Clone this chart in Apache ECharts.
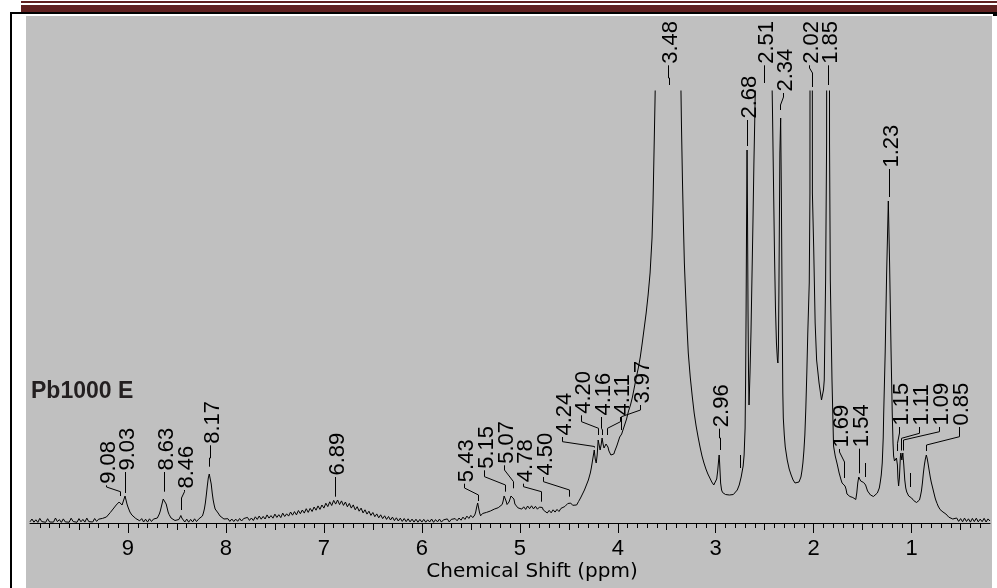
<!DOCTYPE html>
<html><head><meta charset="utf-8">
<script src="https://cdn.jsdelivr.net/npm/echarts@6/dist/echarts.min.js"></script>
<style>html,body{margin:0;padding:0;background:#fff}#chart{width:997px;height:588px}</style>
</head><body><div id="chart"></div>
<script>
// ---- spectrum: [chemical shift (ppm), intensity] ----
const aromaticRegion = [[10.00,1.2],[9.98,4.0],[9.96,0.8],[9.94,3.2],[9.92,0.6],[9.90,4.6],[9.88,1.4],[9.86,3.0],[9.84,0.7],[9.82,4.3],[9.80,1.0],[9.78,2.8],[9.76,0.9],[9.74,5.0],[9.72,1.3],[9.70,3.4],[9.68,0.6],[9.66,4.1],[9.64,1.1],[9.62,2.9],[9.60,0.8],[9.58,4.8],[9.56,1.5],[9.54,3.3],[9.52,0.7],[9.50,4.4],[9.48,1.2],[9.46,3.6],[9.44,0.9],[9.42,4.9],[9.40,1.4],[9.38,3.1],[9.36,1.0],[9.34,4.5],[9.32,1.6],[9.30,3.8],[9.28,2.0],[9.26,4.6],[9.24,4.5],[9.22,6],[9.20,8],[9.18,10.5],[9.16,13],[9.14,15],[9.12,18],[9.10,19],[9.09,21],[9.08,22],[9.07,19],[9.06,18],[9.05,21],[9.04,24],[9.03,27],[9.02,23],[9.01,19],[9.00,16],[8.99,14],[8.98,11],[8.97,10],[8.96,8],[8.94,6.5],[8.92,4.5],[8.90,3.5],[8.88,2.2],[8.86,4.4],[8.84,1.0],[8.82,3.8],[8.80,0.9],[8.78,4.2],[8.76,1.5],[8.74,3.9],[8.72,2.6],[8.70,5],[8.68,9],[8.67,12],[8.66,16],[8.65,20],[8.64,24],[8.63,25.5],[8.62,23],[8.61,19],[8.60,15],[8.59,11],[8.58,8.5],[8.57,6.5],[8.56,5],[8.54,3.5],[8.52,2.5],[8.50,3.0],[8.48,3.5],[8.47,5],[8.46,7.5],[8.45,5],[8.44,3.2],[8.42,1.0],[8.40,3.9],[8.38,0.8],[8.36,3.6],[8.34,1.1],[8.32,4.2],[8.30,1.4],[8.28,3.8],[8.26,4.5],[8.24,7],[8.23,10],[8.22,14],[8.21,20],[8.20,28],[8.19,37],[8.18,45],[8.17,49],[8.16,47],[8.15,39],[8.14,30],[8.13,23],[8.12,18],[8.11,14],[8.10,12],[8.08,10],[8.06,7],[8.04,5.5],[8.02,4],[8.00,2.4],[7.98,4.3],[7.96,1.6],[7.94,4.0],[7.92,1.5],[7.90,3.9],[7.88,1.7],[7.86,4.5],[7.84,2.0],[7.82,4.4],[7.80,2.6]];

const broadRegion = [[7.78,5.6],[7.76,2.6],[7.74,5.0],[7.72,2.5],[7.70,6.2],[7.68,3.6],[7.66,7.0],[7.64,3.8],[7.62,6.6],[7.60,4.0],[7.58,8.1],[7.56,4.9],[7.54,7.4],[7.52,4.8],[7.50,8.9],[7.48,5.6],[7.46,8.3],[7.44,5.4],[7.42,9.9],[7.40,6.5],[7.38,9.2],[7.36,6.9],[7.34,11.0],[7.32,7.8],[7.30,11.4],[7.28,8.1],[7.26,12.5],[7.24,9.3],[7.22,13.0],[7.20,9.9],[7.18,14.3],[7.16,10.6],[7.14,14.6],[7.12,11.5],[7.10,16.0],[7.08,12.8],[7.06,17.1],[7.04,13.6],[7.02,18.0],[7.00,14.9],[6.98,19.8],[6.96,16.4],[6.94,21.2],[6.92,17.5],[6.90,22.6],[6.88,18.9],[6.86,23.0],[6.84,18.4],[6.82,22.1],[6.80,17.6],[6.78,21.0],[6.76,16.2],[6.74,19.6],[6.72,14.9],[6.70,18.1],[6.68,13.2],[6.66,16.3],[6.64,11.8],[6.62,14.9],[6.60,10.1],[6.58,13.2],[6.56,8.9],[6.54,11.8],[6.52,7.6],[6.50,10.5],[6.48,6.3],[6.46,9.1],[6.44,5.2],[6.42,8.2],[6.40,4.4],[6.38,7.2],[6.36,3.6],[6.34,6.5],[6.32,3.0],[6.30,5.9],[6.28,2.4],[6.26,5.2],[6.24,2.0],[6.22,4.8],[6.20,1.6],[6.18,4.5],[6.16,1.3],[6.14,4.2],[6.12,1.1],[6.10,3.9],[6.08,0.9],[6.06,3.8],[6.04,0.8],[6.02,3.6],[6.00,0.9],[5.98,3.7],[5.96,0.8],[5.94,3.2],[5.92,1.0],[5.90,4.0],[5.88,0.7],[5.86,3.4],[5.84,1.1],[5.82,3.9],[5.80,0.9],[5.78,3.1],[5.76,1.2],[5.74,4.1],[5.72,1.0],[5.70,3.6],[5.68,1.8],[5.66,4.4],[5.64,2.2],[5.62,5.0],[5.60,2.8],[5.58,5.9],[5.56,3.6],[5.54,6.9],[5.52,4.6],[5.50,7.6],[5.48,5.4],[5.46,8],[5.45,11],[5.44,16],[5.43,20],[5.42,15],[5.41,10],[5.40,7.2],[5.38,9.5],[5.36,8.6],[5.34,10.6],[5.32,9.8],[5.30,12.0],[5.28,11.4],[5.26,13.9],[5.24,13.0],[5.22,15.3],[5.20,15.0],[5.18,18.5],[5.17,22],[5.16,27],[5.15,28],[5.14,22],[5.13,18.5],[5.12,19.5],[5.11,21],[5.10,24],[5.09,27],[5.08,29],[5.07,28],[5.06,24],[5.05,19],[5.04,17],[5.02,15.2],[5.00,16.6],[4.98,13.9],[4.96,16.2],[4.94,13.6],[4.92,17.0],[4.90,14.3],[4.88,17.2],[4.86,14.1],[4.84,16.7],[4.82,13.8],[4.80,15.9],[4.79,16.5],[4.78,17.5],[4.77,15.5],[4.76,13.0],[4.74,11.5],[4.72,10.0],[4.70,12.6],[4.68,10.2],[4.66,13.2],[4.64,10.9],[4.62,13.6],[4.60,11.5],[4.58,14.6],[4.56,13.9],[4.54,16.5],[4.52,18.2],[4.51,19.5],[4.50,20.0],[4.49,18.0],[4.48,19.9],[4.46,17.7],[4.44,18.2],[4.42,18.0]];

const solventRegion = [[4.40,21.5],[4.38,25],[4.36,29],[4.34,33],[4.32,38],[4.30,43],[4.28,50],[4.27,55],[4.26,61],[4.25,67],[4.24,73],[4.23,64],[4.22,60],[4.21,68],[4.20,83],[4.19,78],[4.18,73],[4.17,78],[4.16,85],[4.15,79],[4.14,75],[4.13,77],[4.12,79],[4.11,81],[4.10,76],[4.09,72],[4.08,70],[4.07,68],[4.06,66],[4.05,67],[4.04,69],[4.03,72],[4.02,74],[4.01,77],[4.00,80],[3.99,83],[3.98,86],[3.97,88],[3.96,89],[3.95,92],[3.94,95],[3.93,98],[3.91,104],[3.89,112],[3.87,118],[3.85,126],[3.83,136],[3.81,146],[3.79,155],[3.77,166],[3.75,180],[3.73,195],[3.71,210],[3.69,228],[3.67,250],[3.65,285],[3.64,320],[3.63,370],[3.62,420],[3.61,480],[3.60,560],[3.58,720],[3.55,1000],[3.52,1300],[3.49,1450],[3.47,1450],[3.44,1250],[3.41,950],[3.38,650],[3.36,470],[3.35,400],[3.34,345],[3.33,300],[3.32,260],[3.31,235],[3.30,212],[3.29,190],[3.28,170],[3.27,158],[3.26,146],[3.24,127],[3.22,110],[3.20,97],[3.18,86],[3.16,76],[3.14,67],[3.12,60],[3.10,54],[3.08,49],[3.06,45],[3.04,41],[3.02,38],[3.01,37],[3.00,39],[2.99,44],[2.98,52],[2.97,63],[2.965,68],[2.96,60],[2.95,40],[2.94,33],[2.93,30.5],[2.92,29],[2.90,28.5],[2.88,27],[2.86,28],[2.84,27],[2.82,28.5],[2.80,30],[2.78,33],[2.76,38],[2.74,46],[2.72,57],[2.71,68]];

const aliphaticRegion = [[2.70,95],[2.695,140],[2.69,210],[2.685,300],[2.68,373],[2.675,300],[2.67,210],[2.665,150],[2.66,118],[2.655,120],[2.65,150],[2.64,190],[2.63,245],[2.62,300],[2.61,360],[2.60,410],[2.59,470],[2.57,650],[2.54,1300],[2.51,3000],[2.48,1300],[2.45,650],[2.43,470],[2.42,410],[2.41,340],[2.40,270],[2.39,215],[2.38,180],[2.37,163],[2.365,160],[2.36,175],[2.355,230],[2.35,300],[2.345,370],[2.337,405],[2.33,330],[2.325,260],[2.32,190],[2.315,130],[2.31,105],[2.30,88],[2.29,76],[2.27,63],[2.25,54],[2.23,48],[2.21,43],[2.19,40],[2.17,39.5],[2.15,41],[2.13,46],[2.12,52],[2.11,60],[2.10,72],[2.09,88],[2.08,115],[2.07,150],[2.06,190],[2.045,240],[2.038,330],[2.025,2500],[2.013,330],[2.00,276],[1.985,200],[1.97,163],[1.945,140],[1.92,123],[1.90,133],[1.892,143],[1.878,243],[1.868,380],[1.851,2200],[1.838,380],[1.83,243],[1.813,143],[1.797,77],[1.78,67],[1.76,59],[1.74,50],[1.72,43],[1.71,40],[1.70,38],[1.69,41],[1.68,37],[1.67,34],[1.66,29],[1.65,28],[1.64,29],[1.63,26.5],[1.62,28],[1.61,27],[1.60,25.5],[1.59,26],[1.58,24],[1.57,23.5],[1.56,30],[1.55,40],[1.54,46],[1.53,44],[1.52,42],[1.51,41.5],[1.50,41],[1.49,40.5],[1.48,40],[1.47,38],[1.46,35],[1.45,32],[1.44,31],[1.42,28],[1.40,27],[1.39,26.5],[1.37,28],[1.35,30],[1.34,32],[1.33,35],[1.32,41],[1.31,48],[1.30,60],[1.29,85],[1.285,110],[1.27,170],[1.255,250],[1.238,322],[1.225,260],[1.21,172],[1.198,110],[1.19,80],[1.184,67],[1.175,62],[1.165,61],[1.155,65],[1.15,67],[1.145,58],[1.14,45],[1.133,37],[1.125,45],[1.115,66],[1.11,70],[1.10,63],[1.09,70],[1.08,58],[1.07,43],[1.06,35],[1.05,31],[1.04,29],[1.03,27],[1.02,28],[1.01,26],[1.00,25],[0.99,24],[0.98,22.5],[0.97,22],[0.96,21],[0.95,20.5],[0.94,20],[0.93,21],[0.92,23],[0.91,27],[0.90,32],[0.89,40],[0.88,50],[0.87,58],[0.86,64],[0.85,68],[0.84,64],[0.83,58],[0.82,52],[0.81,46],[0.80,41],[0.79,37],[0.78,33],[0.77,29],[0.76,25],[0.75,22],[0.74,19.5],[0.73,17],[0.72,15],[0.71,13.5],[0.70,12.5],[0.69,12],[0.68,11],[0.67,10.8],[0.66,9.5],[0.65,9],[0.64,7.5],[0.63,7],[0.62,5.8],[0.61,5.2],[0.60,4.6],[0.58,4.0],[0.56,3.2],[0.54,5.0],[0.52,1.6],[0.50,4.4],[0.48,1.2],[0.46,4.9],[0.44,1.5],[0.42,4.2],[0.40,0.9],[0.38,4.6],[0.36,1.4],[0.34,4.8],[0.32,1.1],[0.30,3.9],[0.28,1.3],[0.26,4.7],[0.24,1.0],[0.22,4.1],[0.20,2.0]];

// ---- peak picks (label values, ppm) ----
const peakShifts = [9.08, 9.03, 8.63, 8.46, 8.17, 6.89, 5.43, 5.15, 5.07, 4.78, 4.50, 4.24, 4.20, 4.16, 4.11, 3.97, 3.48, 2.96, 2.68, 2.51, 2.34, 2.02, 1.85, 1.69, 1.54, 1.23, 1.15, 1.11, 1.09, 0.85];

// ---- layout of the peak-label leaders, in axis units: [label ppm, text start, bend top, bend bottom, tip] ----
const labelLayout = [
  [9.222, 39.7, 36, 31.3, 27], [9.03, 53, 40, 40, 30], [8.637, 53, 40, 40, 31.3], [8.433, 35, 31.3, 25, 13],
  [8.164, 79.7, 65, 65, 56.3], [6.884, 48, 35, 35, 26.3], [5.574, 41.3, 35, 28, 22], [5.37, 54.7, 46.3, 38, 31.3],
  [5.166, 59.7, 53, 41.3, 34.7], [4.972, 41.3, 36.3, 31.3, 21.3], [4.768, 48, 41.3, 33, 26.3], [4.57, 88, 81.3, 76.5, 75.5],
  [4.376, 109.7, 101.3, 94.7, 88], [4.172, 108, 94.7, 93, 88], [3.974, 108, 101.3, 94.7, 88], [3.77, 120, 113, 106.3, 93],
  [3.484, 459.7, 445, 445, 438], [2.964, 96.3, 85, 85, 73], [2.681, 405, 390, 390, 377], [2.512, 459.7, 448, 448, 440],
  [2.318, 432, 426, 418, 413], [2.05, 459.7, 455, 450, 436], [1.85, 459.7, 448, 448, 438], [1.744, 76, 71, 61, 45],
  [1.542, 76.3, 60, 60, 49.7], [1.236, 356, 340, 340, 326], [1.133, 98, 90, 79.7, 72], [0.929, 98, 89.7, 84.7, 72.5],
  [0.725, 98, 91.3, 83, 72.5], [0.521, 98, 86.3, 78, 72]
];
// short unlabelled leader marks seen above the trace: [ppm, top, bottom]
const unlabelledMarks = [[2.748, 68, 55], [1.473, 60, 46], [1.014, 50, 36]];

const majorTicks = [1, 2, 3, 4, 5, 6, 7, 8, 9];
const tickLabels = ['1', '2', '3', '4', '5', '6', '7', '8', '9'];
const halfTicks = [0.5, 1.5, 2.5, 3.5, 4.5, 5.5, 6.5, 7.5, 8.5, 9.5];
const minorTicks = [];
for (let i = 3; i <= 99; i++) { if (i % 5 !== 0) minorTicks.push(i / 10); }

const sampleName = 'Pb1000 E';
const axisTitle = 'Chemical Shift (ppm)';

const spectrum = aromaticRegion.concat(broadRegion, solventRegion, aliphaticRegion);
const X_MIN = 0.2, X_MAX = 10.0, Y_MAX = 432;
const LABEL_FONT = '22px "Liberation Sans", Arial, sans-serif';

const labelData = peakShifts.map((p, i) => [p].concat(labelLayout[i]));
const snap = v => Math.round(v) + 0.5;

function renderLabel(params, api) {
  const peak = api.value(0), lab = api.value(1), tI = api.value(2), bT = api.value(3), bB = api.value(4), tip = api.value(5);
  const a = api.coord([lab, tI]), b = api.coord([lab, bT]), c = api.coord([peak, bB]), d = api.coord([peak, tip]);
  const pts = [[snap(a[0]), a[1] + 2], [snap(b[0]), b[1]], [snap(c[0]), c[1]], [snap(d[0]), d[1]]];
  return {
    type: 'group',
    children: [
      { type: 'polyline', shape: { points: pts }, style: { stroke: '#000', lineWidth: 1, fill: 'none' } },
      { type: 'text', x: snap(a[0]), y: a[1] + 0.5, rotation: Math.PI / 2,
        style: { text: peakShifts[params.dataIndex].toFixed(2), x: 0, y: 2.5, fill: '#000', font: LABEL_FONT, align: 'left', verticalAlign: 'middle' } }
    ]
  };
}
function renderMark(params, api) {
  const a = api.coord([api.value(0), api.value(1)]), b = api.coord([api.value(0), api.value(2)]);
  return { type: 'line', shape: { x1: snap(a[0]), y1: a[1], x2: snap(b[0]), y2: b[1] }, style: { stroke: '#000', lineWidth: 1 } };
}

function baseAxis(extra) {
  return Object.assign({
    type: 'value', min: X_MIN, max: X_MAX, inverse: true, position: 'bottom', gridIndex: 0,
    splitLine: { show: false }, axisLine: { show: false, onZero: false }, axisLabel: { show: false }
  }, extra);
}

const chart = echarts.init(document.getElementById('chart'), null, { renderer: 'canvas' });
chart.setOption({
  animation: false,
  backgroundColor: '#ffffff',
  grid: { left: 30, right: 7, top: 91, bottom: 65, containLabel: false, outerBoundsMode: 'none' },
  xAxis: [
    baseAxis({
      axisLine: { show: true, onZero: false, lineStyle: { color: '#000', width: 1 } },
      axisTick: { show: true, customValues: majorTicks, length: 10, lineStyle: { color: '#000', width: 1 } },
      axisLabel: { show: true, customValues: majorTicks, margin: 15, color: '#000', fontSize: 22,
        fontFamily: '"Liberation Sans", Arial, sans-serif',
        formatter: v => { const k = majorTicks.indexOf(Math.round(v)); return k >= 0 ? tickLabels[k] : ''; } },
      name: axisTitle, nameLocation: 'middle', nameGap: 39, nameMoveOverlap: false,
      nameTextStyle: { color: '#000', fontFamily: '"DejaVu Sans", sans-serif', fontSize: 20, padding: [0, 0, 0, 44] }
    }),
    baseAxis({ axisTick: { show: true, customValues: halfTicks, length: 7, lineStyle: { color: '#000', width: 1 } } }),
    baseAxis({ axisTick: { show: true, customValues: minorTicks, length: 5, lineStyle: { color: '#000', width: 1 } } })
  ],
  yAxis: { type: 'value', min: 0, max: Y_MAX, show: false },
  graphic: { elements: [
    { type: 'rect', shape: { x: 26, y: 16, width: 966, height: 572 }, style: { fill: '#c0c0c0' }, z: -100, silent: true },
    { type: 'rect', shape: { x: 21, y: 1, width: 976, height: 2 }, style: { fill: '#5f2120' }, z: -100, silent: true },
    { type: 'rect', shape: { x: 21, y: 5, width: 976, height: 7 }, style: { fill: '#5f2120' }, z: -100, silent: true },
    { type: 'rect', shape: { x: 10, y: 12, width: 987, height: 2 }, style: { fill: '#000' }, z: -100, silent: true },
    { type: 'rect', shape: { x: 10, y: 12, width: 2, height: 576 }, style: { fill: '#000' }, z: -100, silent: true },
    { type: 'rect', shape: { x: 993, y: 12, width: 4, height: 4 }, style: { fill: '#000' }, z: -100, silent: true },
    { type: 'text', x: 31, y: 392, z: 10, silent: true,
      style: { text: sampleName, font: 'bold 23px "Liberation Sans", Arial, sans-serif', fill: '#231f20',
        align: 'left', verticalAlign: 'middle', textAlign: 'left', textVerticalAlign: 'middle' } }
  ] },
  series: [
    { type: 'line', name: 'spectrum', xAxisIndex: 0, yAxisIndex: 0, data: spectrum, showSymbol: false, symbol: 'none',
      lineStyle: { color: '#000', width: 1 }, clip: true, silent: true, z: 3 },
    { type: 'custom', name: 'peak labels', xAxisIndex: 0, yAxisIndex: 0, coordinateSystem: 'cartesian2d', clip: false,
      data: labelData, encode: { x: [0, 1], y: [2, 3, 4, 5] }, renderItem: renderLabel, silent: true, z: 5 },
    { type: 'custom', name: 'marks', xAxisIndex: 0, yAxisIndex: 0, coordinateSystem: 'cartesian2d', clip: false,
      data: unlabelledMarks, encode: { x: 0, y: [1, 2] }, renderItem: renderMark, silent: true, z: 5 }
  ]
});
</script>
</body></html>
